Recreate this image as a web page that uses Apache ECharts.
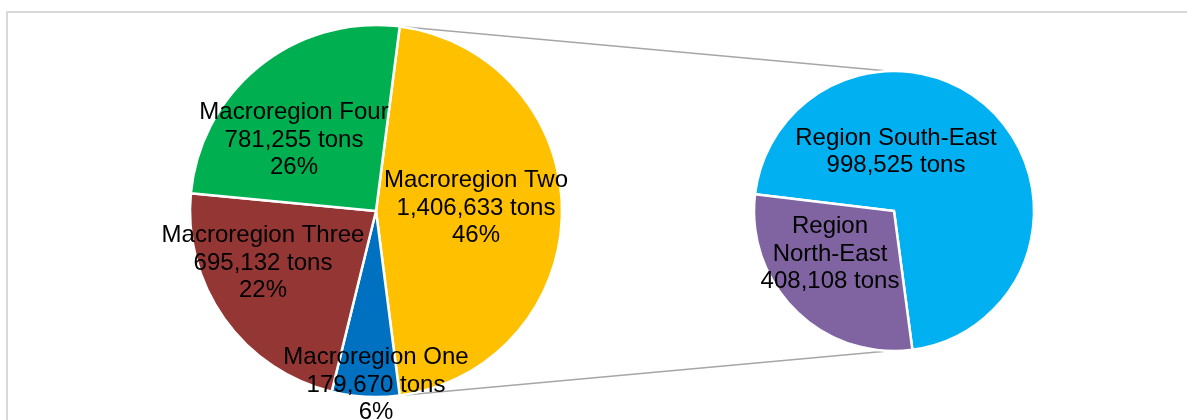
<!DOCTYPE html>
<html>
<head>
<meta charset="utf-8">
<script src="https://cdn.jsdelivr.net/npm/echarts@6/dist/echarts.min.js"></script>
<style>
html,body{margin:0;padding:0;background:#fff;}
#chart{width:1187px;height:420px;}
</style>
</head>
<body>
<div id="chart"></div>
<script>
// ---- data ----
const mainNames = ['Macroregion Two', 'Macroregion One', 'Macroregion Three', 'Macroregion Four'];
const mainValues = [1406633, 179670, 695132, 781255];
const mainPctLabels = ['46%', '6%', '22%', '26%'];
const subNames = ['Region South-East', 'Region North-East'];
const subLabelNames = ['Region South-East', 'Region\nNorth-East'];
const subValues = [998525, 408108];

// ---- layout / style ----
const mainColors = ['#ffc000', '#0070c0', '#943634', '#00b050'];
const subColors = ['#00b0f0', '#8064a2'];
const mainCenter = [376, 211], mainRadius = 186;
const subCenter = [894, 211], subRadius = 140;
// label offsets (px) from each pie's centre
const mainLabelOffsets = [[100, -3], [0, 174], [-113, 52], [-82, -71]];
const subLabelOffsets = [[2, -59], [-64, 43]];

const fmt = v => v.toLocaleString('en-US');
const total = mainValues.reduce((a, b) => a + b, 0);
const mainStart = 360 * mainValues[0] / total / 2;
const subStart = 173.1;

const textStyle = {
  color: '#000', fontFamily: '"Liberation Sans", Arial, sans-serif',
  fontSize: 24, lineHeight: 27.5, align: 'center', verticalAlign: 'middle'
};

const chart = echarts.init(document.getElementById('chart'), null, {renderer: 'canvas'});

function polar(c, r, deg) {
  const a = deg * Math.PI / 180;
  return [c[0] + r * Math.cos(a), c[1] - r * Math.sin(a)];
}
const twoEnd = mainStart - 360 * mainValues[0] / total;
const pTopL = polar(mainCenter, mainRadius, mainStart);
const pBotL = polar(mainCenter, mainRadius, twoEnd);
const pTopR = [subCenter[0] - 6, subCenter[1] - subRadius];
const pBotR = [subCenter[0] - 6, subCenter[1] + subRadius];

chart.setOption({
  animation: false,
  backgroundColor: '#fff',
  graphic: [
    {type: 'rect', z: 0, shape: {x: 7, y: 12, width: 1200, height: 430},
     style: {fill: 'none', stroke: '#d9d9d9', lineWidth: 2}},
    {type: 'line', z: 0, shape: {x1: pTopL[0], y1: pTopL[1], x2: pTopR[0], y2: pTopR[1]},
     style: {stroke: '#a6a6a6', lineWidth: 1.5}},
    {type: 'line', z: 0, shape: {x1: pBotL[0], y1: pBotL[1], x2: pBotR[0], y2: pBotR[1]},
     style: {stroke: '#a6a6a6', lineWidth: 1.5}}
  ],
  series: [
    {
      type: 'pie', center: mainCenter, radius: [0, mainRadius],
      startAngle: mainStart, clockwise: true, silent: true,
      itemStyle: {borderColor: '#fff', borderWidth: 2.5},
      label: Object.assign({show: true, position: 'inside',
        formatter: p => p.name + '\n' + fmt(p.value) + ' tons\n' + mainPctLabels[p.dataIndex]}, textStyle),
      labelLine: {show: false},
      labelLayout: p => ({x: mainCenter[0] + mainLabelOffsets[p.dataIndex][0],
                          y: mainCenter[1] + mainLabelOffsets[p.dataIndex][1],
                          align: 'center', verticalAlign: 'middle'}),
      data: mainNames.map((n, i) => ({name: n, value: mainValues[i], itemStyle: {color: mainColors[i]}}))
    },
    {
      type: 'pie', center: subCenter, radius: [0, subRadius],
      startAngle: subStart, clockwise: true, silent: true,
      itemStyle: {borderColor: '#fff', borderWidth: 2.5},
      label: Object.assign({show: true, position: 'inside',
        formatter: p => subLabelNames[p.dataIndex] + '\n' + fmt(p.value) + ' tons'}, textStyle),
      labelLine: {show: false},
      labelLayout: p => ({x: subCenter[0] + subLabelOffsets[p.dataIndex][0],
                          y: subCenter[1] + subLabelOffsets[p.dataIndex][1],
                          align: 'center', verticalAlign: 'middle'}),
      data: subNames.map((n, i) => ({name: n, value: subValues[i], itemStyle: {color: subColors[i]}}))
    }
  ]
});
</script>
</body>
</html>
